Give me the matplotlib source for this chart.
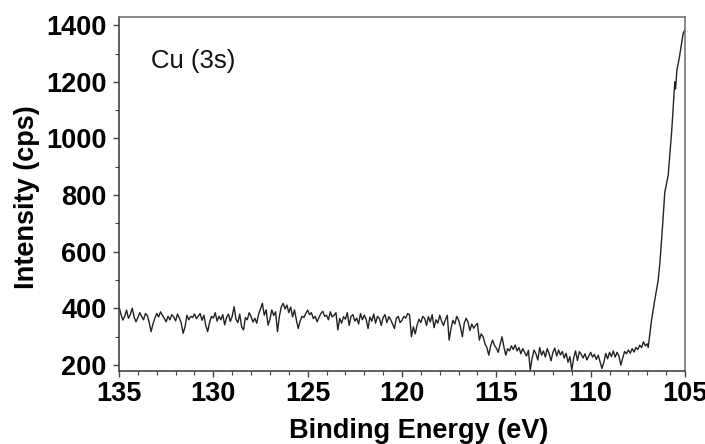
import numpy as np
import matplotlib
matplotlib.use("Agg")
import matplotlib.pyplot as plt
from matplotlib.ticker import MultipleLocator

# Baseline region, 0.1 eV steps from 135.0 down to 107.1
baseline_counts = [
    406, 380, 359, 372, 394, 365, 378, 401, 370, 353,
    368, 385, 372, 360, 382, 375, 350, 318, 345, 366,
    382, 370, 388, 376, 365, 353, 372, 360, 378, 370,
    356, 380, 366, 348, 312, 335, 376, 360, 372, 368,
    380, 364, 372, 382, 358, 376, 340, 318, 350, 372,
    366, 385, 355, 372, 360, 378, 342, 368, 380, 354,
    372, 406, 362, 350, 380, 335, 324, 368, 360, 385,
    372, 352, 365, 348, 380, 398, 418, 376, 395, 341,
    362, 395, 375, 388, 318, 372, 405, 418, 398, 412,
    385, 405, 370, 395, 360, 329, 355, 372, 368, 382,
    394, 378, 385, 364, 372, 353, 368, 382, 390, 372,
    376, 360, 388, 370, 376, 385, 324, 365, 348, 371,
    362, 385, 340, 372, 378, 355, 366, 345, 382, 360,
    376, 362, 329, 370, 355, 380, 348, 372, 365, 340,
    368, 378, 350, 371, 360, 345, 329, 365, 372, 350,
    358, 372, 366, 382, 378, 300, 335, 310, 341, 362,
    350, 372, 365, 340, 371, 352, 378, 332, 360, 348,
    376, 355, 340, 360, 376, 288, 330, 358, 345, 372,
    359, 335, 300, 348, 365, 352, 322, 345, 330, 340,
    347, 288, 310, 300, 275, 262, 235, 268, 288, 270,
    260, 245, 272, 300, 265, 235, 258, 250, 268, 255,
    271, 250, 262, 240, 258, 245, 232, 252, 182, 225,
    253, 240, 218, 262, 235, 250, 228, 258, 240, 215,
    245, 260, 232, 253, 236, 248, 225, 242, 210, 230,
    182, 225, 250, 216, 247, 238, 225, 240, 218, 232,
    245, 228, 238, 220, 235, 212, 188, 210, 241, 222,
    245, 230, 250, 228, 245, 232, 200, 225, 248, 240,
    253, 242, 258, 246, 262, 255, 270, 262, 282, 268,
]
baseline_energy = np.linspace(135.0, 107.1, len(baseline_counts))

# Cu 3s edge region
edge_energy = [107.0, 106.95, 106.77, 106.6, 106.42, 106.33, 106.2, 106.07,
               105.89, 105.7, 105.54, 105.5, 105.43, 105.3, 105.1, 105.0]
edge_counts = [275, 262, 360, 430, 500, 560, 680, 810,
               870, 1030, 1200, 1175, 1240, 1285, 1370, 1385]

energy = np.concatenate([baseline_energy, edge_energy])
counts = np.concatenate([baseline_counts, edge_counts])

x_ticks = [135, 130, 125, 120, 115, 110, 105]
y_ticks = [200, 400, 600, 800, 1000, 1200, 1400]

plt.rcParams['font.family'] = ['Liberation Sans', 'DejaVu Sans']

fig = plt.figure(figsize=(7.05, 4.44), dpi=100)
ax = fig.add_axes([0.1688, 0.1650, 0.9716 - 0.1688, 0.9624 - 0.1650])

ax.plot(energy, counts, color='#222222', lw=1.0)

ax.set_xlim(135, 105)
ax.set_ylim(180, 1430)
ax.set_xticks(x_ticks)
ax.set_yticks(y_ticks)
ax.xaxis.set_minor_locator(MultipleLocator(1))
ax.yaxis.set_minor_locator(MultipleLocator(100))

for side in ['left', 'bottom']:
    ax.spines[side].set_color('#444444')
    ax.spines[side].set_linewidth(1.2)
for side in ['top', 'right']:
    ax.spines[side].set_color('#777777')
    ax.spines[side].set_linewidth(1.2)

ax.tick_params(axis='both', which='major', length=4, width=1, color='#444444',
               labelsize=19.5)
ax.tick_params(axis='x', which='major', pad=3.5)
ax.tick_params(axis='y', which='major', pad=5)
ax.tick_params(axis='both', which='minor', length=3, width=0.8, color='#444444')
for lab in ax.get_xticklabels() + ax.get_yticklabels():
    lab.set_fontweight('bold')

fig.text(0.594, 0.030, 'Binding Energy (eV)', fontsize=19.5, fontweight='bold',
         ha='center', va='center')
fig.text(0.038, 0.556, 'Intensity (cps)', fontsize=19.5, fontweight='bold',
         ha='center', va='center', rotation=90)

ax.text(0.0565, 0.875, 'Cu (3s)', transform=ax.transAxes, fontsize=18.5,
        color='#111111', ha='left', va='center')

fig.savefig('out.png', dpi=100)
